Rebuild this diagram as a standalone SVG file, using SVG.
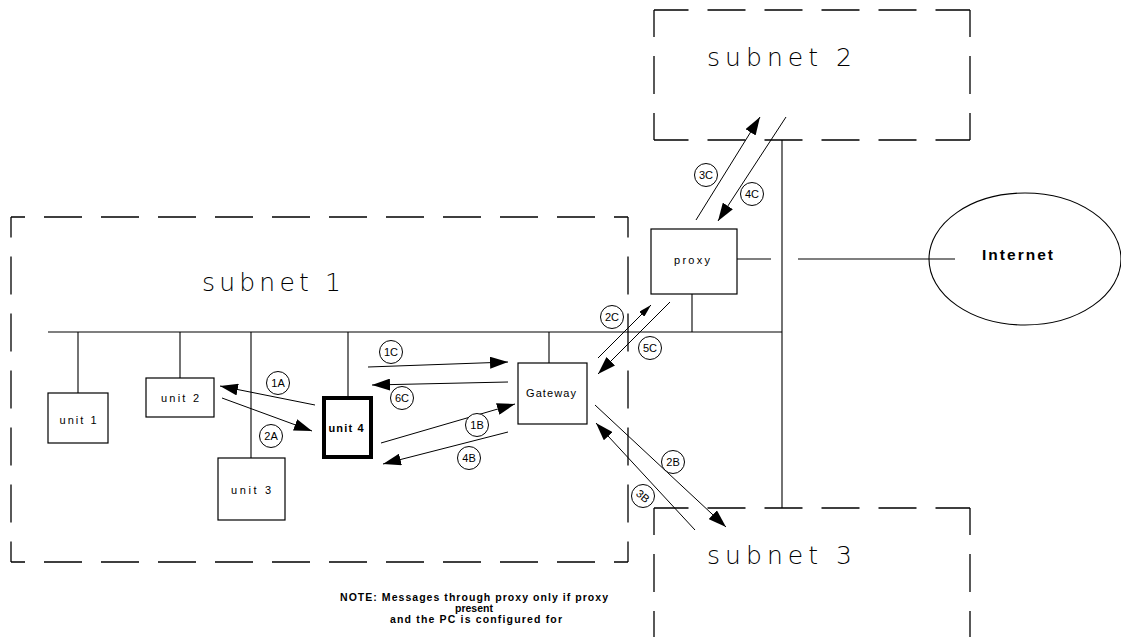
<svg xmlns="http://www.w3.org/2000/svg" width="1121" height="637" viewBox="0 0 1121 637">
<style>
.bg{fill:#fff}
.box{fill:#fff;stroke:#000;stroke-width:1.2}
.thick{fill:#fff;stroke:#000;stroke-width:4}
.ln{stroke:#000;stroke-width:1.1;fill:none}
.dash{stroke:#000;stroke-width:1.3;fill:none}
.arr{stroke:#000;stroke-width:1;fill:none}
.sub{font-family:"DejaVu Sans","Liberation Sans",sans-serif;font-weight:200;font-size:25px;fill:#000}
.unit{font-family:"Liberation Sans",Arial,sans-serif;font-size:11px;fill:#000;text-anchor:middle}
.lbl{font-family:"Liberation Sans",Arial,sans-serif;font-size:11px;fill:#000;text-anchor:middle}
.circ{fill:#fff;stroke:#000;stroke-width:1}
.note{font-family:"Liberation Sans",Arial,sans-serif;font-weight:bold;font-size:10.5px;fill:#000;text-anchor:middle}
</style>
<defs>
<marker id="ah" markerUnits="userSpaceOnUse" markerWidth="18" markerHeight="12" refX="18" refY="6" orient="auto" viewBox="0 0 18 12">
<path d="M0,0 L18,6 L0,12 Z" fill="#000"/>
</marker>
<marker id="ahs" markerUnits="userSpaceOnUse" markerWidth="13" markerHeight="7" refX="13" refY="3.5" orient="auto" viewBox="0 0 13 7">
<path d="M0,0 L13,3.5 L0,7 Z" fill="#000"/>
</marker>
</defs>
<rect class="bg" x="0" y="0" width="1121" height="637"/>

<g id="subnet1">
<line class="dash" x1="11" y1="217" x2="628" y2="217" stroke-dasharray="38 19" stroke-dashoffset="24"/>
<line class="dash" x1="11" y1="562" x2="628" y2="562" stroke-dasharray="38 19" stroke-dashoffset="24"/>
<line class="dash" x1="11" y1="217" x2="11" y2="562" stroke-dasharray="38 19" stroke-dashoffset="17.5"/>
<line class="dash" x1="628" y1="217" x2="628" y2="562" stroke-dasharray="38 19" stroke-dashoffset="17.5"/>
<text class="sub" x="202" y="291" textLength="139" lengthAdjust="spacing">subnet 1</text>
</g>

<g id="subnet2">
<line class="dash" x1="654" y1="10" x2="970" y2="10" stroke-dasharray="38 19" stroke-dashoffset="3.5"/>
<line class="dash" x1="654" y1="140" x2="970" y2="140" stroke-dasharray="38 19" stroke-dashoffset="3.5"/>
<line class="dash" x1="654" y1="10" x2="654" y2="140" stroke-dasharray="38 19" stroke-dashoffset="11"/>
<line class="dash" x1="970" y1="10" x2="970" y2="140" stroke-dasharray="38 19" stroke-dashoffset="11"/>
<text class="sub" x="707" y="66" textLength="145" lengthAdjust="spacing">subnet 2</text>
</g>

<g id="subnet3">
<line class="dash" x1="654" y1="508" x2="970" y2="508" stroke-dasharray="38 19" stroke-dashoffset="3.5"/>
<line class="dash" x1="654" y1="508" x2="654" y2="660" stroke-dasharray="38 19" stroke-dashoffset="11"/>
<line class="dash" x1="970" y1="508" x2="970" y2="660" stroke-dasharray="38 19" stroke-dashoffset="11"/>
<text class="sub" x="707" y="564" textLength="145" lengthAdjust="spacing">subnet 3</text>
</g>

<g id="network">
<line class="ln" x1="48" y1="332" x2="782" y2="332"/>
<line class="ln" x1="782" y1="140" x2="782" y2="508"/>
<line class="ln" x1="78" y1="332" x2="78" y2="393"/>
<line class="ln" x1="180" y1="332" x2="180" y2="378"/>
<line class="ln" x1="251" y1="332" x2="251" y2="458"/>
<line class="ln" x1="348" y1="332" x2="348" y2="396"/>
<line class="ln" x1="549" y1="332" x2="549" y2="363"/>
<line class="ln" x1="692" y1="294" x2="692" y2="332"/>
<line class="ln" x1="737" y1="259" x2="771" y2="259"/>
<line class="ln" x1="798" y1="259" x2="955" y2="259"/>
</g>

<g id="unit1">
<rect class="box" x="48" y="393" width="60" height="50"/>
<text class="unit" x="78" y="424" textLength="37" lengthAdjust="spacing">unit 1</text>
</g>
<g id="unit2">
<rect class="box" x="146" y="378" width="68" height="39"/>
<text class="unit" x="180" y="402" textLength="38" lengthAdjust="spacing">unit 2</text>
</g>
<g id="unit3">
<rect class="box" x="218" y="458" width="67" height="62"/>
<text class="unit" x="251" y="494" textLength="40" lengthAdjust="spacing">unit 3</text>
</g>
<g id="unit4">
<rect class="thick" x="324" y="398" width="47" height="59"/>
<text class="unit" x="346" y="432" font-weight="bold" textLength="35" lengthAdjust="spacing">unit 4</text>
</g>
<g id="gateway">
<rect class="box" x="518" y="363" width="69" height="61"/>
<text class="unit" x="551" y="397" textLength="50" lengthAdjust="spacing">Gateway</text>
</g>
<g id="proxy">
<rect class="box" x="651" y="229" width="86" height="65"/>
<text class="unit" x="692" y="264" textLength="36" lengthAdjust="spacing">proxy</text>
</g>
<g id="internet">
<ellipse cx="1025" cy="259" rx="96" ry="66" fill="none" stroke="#000" stroke-width="1.1"/>
<text x="982" y="260" font-family="'Liberation Sans',Arial,sans-serif" font-size="15.5" font-weight="bold" textLength="71" lengthAdjust="spacing">Internet</text>
</g>

<g id="connectors">
<line class="arr" x1="315" y1="405" x2="220" y2="386" marker-end="url(#ah)"/>
<line class="arr" x1="222" y1="398" x2="312" y2="431" marker-end="url(#ah)"/>
<line class="arr" x1="368" y1="367" x2="508" y2="362" marker-end="url(#ah)"/>
<line class="arr" x1="508" y1="382" x2="372" y2="385" marker-end="url(#ah)"/>
<line class="arr" x1="381" y1="443" x2="515" y2="404" marker-end="url(#ah)"/>
<line class="arr" x1="508" y1="432" x2="383" y2="464" marker-end="url(#ah)"/>
<line class="arr" x1="598" y1="358" x2="651" y2="305" marker-end="url(#ahs)"/>
<line class="arr" x1="670" y1="302" x2="598" y2="374" marker-end="url(#ah)"/>
<line class="arr" x1="696" y1="220" x2="760" y2="117" marker-end="url(#ah)"/>
<line class="arr" x1="786" y1="117" x2="718" y2="221" marker-end="url(#ah)"/>
<line class="arr" x1="595" y1="405" x2="726" y2="527" marker-end="url(#ah)"/>
<line class="arr" x1="695" y1="530" x2="596" y2="423" marker-end="url(#ah)"/>
</g>

<g id="labels">
<circle class="circ" cx="278" cy="383" r="11.5"/><text class="lbl" x="278" y="387">1A</text>
<circle class="circ" cx="271" cy="436" r="11.5"/><text class="lbl" x="271" y="440">2A</text>
<circle class="circ" cx="391" cy="352" r="11.5"/><text class="lbl" x="391" y="356">1C</text>
<circle class="circ" cx="402" cy="398" r="11.5"/><text class="lbl" x="402" y="402">6C</text>
<circle class="circ" cx="477" cy="425" r="11.5"/><text class="lbl" x="477" y="429">1B</text>
<circle class="circ" cx="469" cy="458" r="11.5"/><text class="lbl" x="469" y="462">4B</text>
<circle class="circ" cx="612" cy="317" r="11.5"/><text class="lbl" x="612" y="321">2C</text>
<circle class="circ" cx="650" cy="348" r="11.5"/><text class="lbl" x="650" y="352">5C</text>
<circle class="circ" cx="673" cy="462" r="11.5"/><text class="lbl" x="673" y="466">2B</text>
<circle class="circ" cx="643" cy="496" r="11.5"/><text class="lbl" x="643" y="500" transform="rotate(40 643 496)">3B</text>
<circle class="circ" cx="706" cy="175" r="11.5"/><text class="lbl" x="706" y="179">3C</text>
<circle class="circ" cx="752" cy="194" r="11.5"/><text class="lbl" x="752" y="198">4C</text>
</g>

<g id="note">
<text class="note" x="474" y="601" textLength="268" lengthAdjust="spacing">NOTE: Messages through proxy only if proxy</text>
<text class="note" x="474" y="612">present</text>
<text class="note" x="476" y="623" textLength="172" lengthAdjust="spacing">and the PC is configured for</text>
</g>
</svg>
